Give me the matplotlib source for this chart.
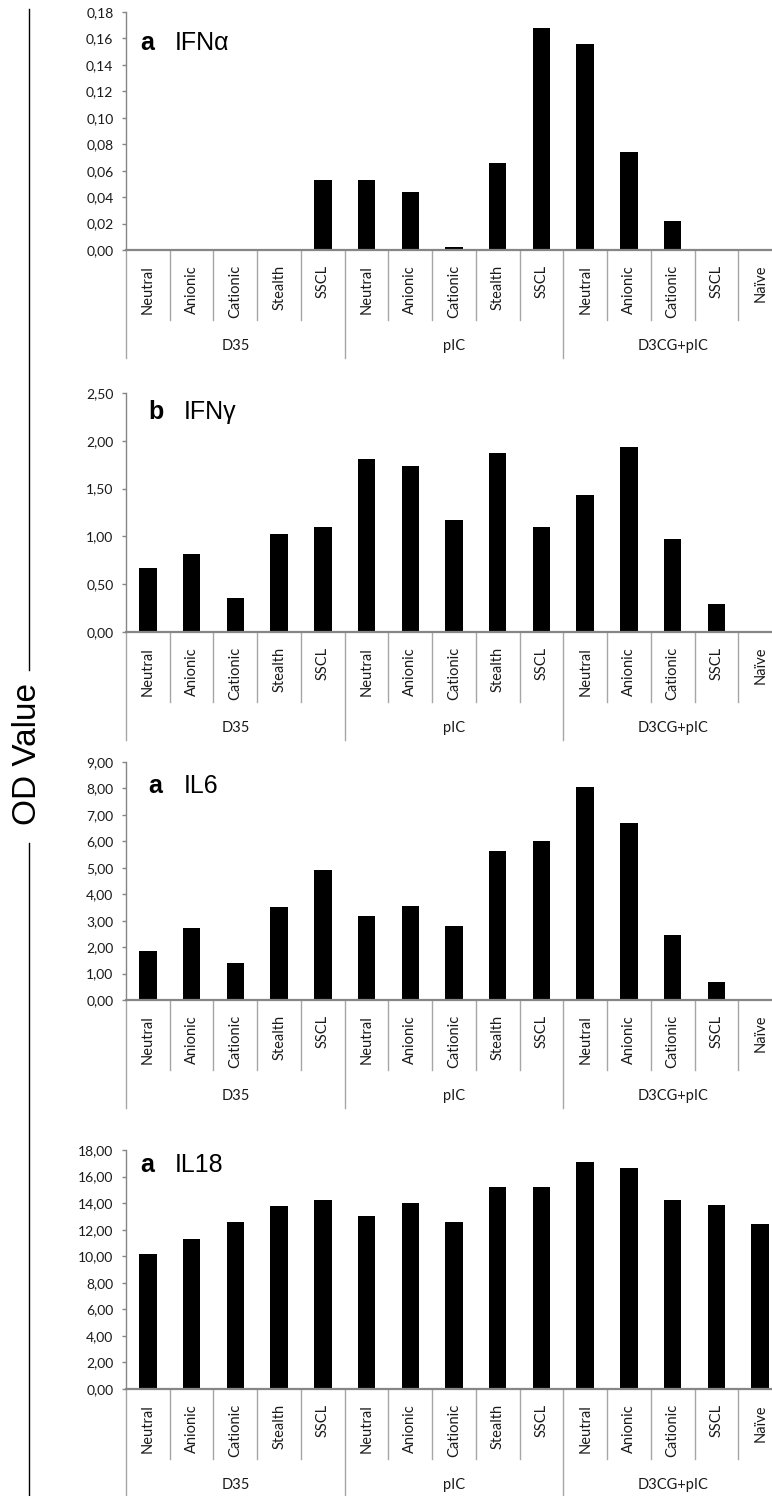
import matplotlib
matplotlib.use('Agg')
import matplotlib.pyplot as plt
from matplotlib.lines import Line2D
from matplotlib.ticker import FuncFormatter, MultipleLocator
import numpy as np

groups = ['D35', 'pIC', 'D3CG+pIC']
categories = ['Neutral', 'Anionic', 'Cationic', 'Stealth', 'SSCL',
              'Neutral', 'Anionic', 'Cationic', 'Stealth', 'SSCL',
              'Neutral', 'Anionic', 'Cationic', 'SSCL', 'Naïve']

ifn_alpha = [0, 0, 0, 0, 0.053,
             0.053, 0.044, 0.0025, 0.066, 0.168,
             0.156, 0.074, 0.022, 0, 0]
ifn_gamma = [0.67, 0.82, 0.36, 1.03, 1.10,
             1.81, 1.74, 1.17, 1.87, 1.10,
             1.43, 1.94, 0.97, 0.29, 0]
il6 = [1.86, 2.71, 1.39, 3.50, 4.91,
       3.18, 3.55, 2.81, 5.63, 6.02,
       8.04, 6.71, 2.44, 0.68, 0]
il18 = [10.14, 11.30, 12.60, 13.76, 14.26,
        13.05, 13.98, 12.60, 15.23, 15.23,
        17.07, 16.64, 14.26, 13.86, 12.40]

W, H, DPI = 772, 1496, 100
AXIS_GREY = '#868686'
SEP_GREY = '#a6a6a6'
TEXT_GREY = '#1a1a1a'
LABEL_FONT = 'Lato'
TITLE_FONT = 'Liberation Sans'

# (letter, name, values, ymax, step, top px, bottom px, title x, title baseline)
panels = [
    ('a', 'IFNα', ifn_alpha, 0.18, 0.02, 12, 250, 0.021, 0.840),
    ('b', 'IFNγ', ifn_gamma, 2.5, 0.5, 393, 632, 0.034, 0.891),
    ('a', 'IL6', il6, 9, 1, 762, 1000, 0.034, 0.869),
    ('a', 'IL18', il18, 18, 2, 1150, 1389, 0.021, 0.908),
]

fig = plt.figure(figsize=(W / DPI, H / DPI), dpi=DPI)
x = np.arange(len(categories))
ax_left, ax_right = 126, 782


def comma_fmt(v, pos):
    return f'{v:.2f}'.replace('.', ',')


for letter, name, values, ymax, step, top, bottom, tx, ty in panels:
    h_px = bottom - top
    ax = fig.add_axes([ax_left / W, 1 - bottom / H,
                       (ax_right - ax_left) / W, h_px / H])
    ax.bar(x, values, width=0.4, color='black', edgecolor='none')
    ax.set_xlim(-0.5, len(categories) - 0.5)
    ax.set_ylim(0, ymax)
    ax.yaxis.set_major_locator(MultipleLocator(step))
    ax.yaxis.set_major_formatter(FuncFormatter(comma_fmt))
    for side in ('top', 'right'):
        ax.spines[side].set_visible(False)
    ax.spines['left'].set_color(AXIS_GREY)
    ax.spines['left'].set_linewidth(1.0)
    ax.spines['bottom'].set_color(AXIS_GREY)
    ax.spines['bottom'].set_linewidth(1.6)
    ax.tick_params(axis='y', length=3, width=1, color=AXIS_GREY, pad=6,
                   labelsize=10, labelcolor=TEXT_GREY)
    for lab in ax.get_yticklabels():
        lab.set_family(LABEL_FONT)
    ax.set_xticks([])

    tr = ax.get_xaxis_transform()
    inner = 70 / h_px
    outer = 108 / h_px
    # category separators below the axis, longer ones between groups
    for b in np.arange(len(categories) + 1) - 0.5:
        is_group = (b + 0.5) % 5 == 0
        ax.plot([b, b], [0, -(outer if is_group else inner)], transform=tr,
                color=SEP_GREY, lw=1, clip_on=False)
    for xi, cat in zip(x, categories):
        ax.text(xi, -15 / h_px, cat, transform=tr, rotation=90,
                ha='center', va='top', fontsize=10.5, family=LABEL_FONT,
                color=TEXT_GREY)
    for gi, grp in enumerate(groups):
        ax.text(gi * 5 + 2, -96 / h_px, grp, transform=tr, ha='center',
                va='center', fontsize=10.5, family=LABEL_FONT, color=TEXT_GREY)

    ax.text(tx, ty, letter, transform=ax.transAxes, fontsize=18,
            fontweight='bold', family=TITLE_FONT, va='baseline')
    ax.annotate(name, xy=(tx, ty), xycoords='axes fraction',
                xytext=(25.5, 0), textcoords='offset points', fontsize=18,
                family=TITLE_FONT, va='baseline')

# shared y label with a rule broken around it
line_x = 29 / W
fig.add_artist(Line2D([line_x, line_x], [1 - 9 / H, 1 - 670 / H],
                      color='black', lw=1))
fig.add_artist(Line2D([line_x, line_x], [1 - 843 / H, 0],
                      color='black', lw=1))
fig.text(28 / W, 1 - 754 / H, 'OD Value', rotation=90, ha='center',
         va='center', fontsize=24, family=TITLE_FONT)

fig.savefig('out.png', dpi=DPI)
